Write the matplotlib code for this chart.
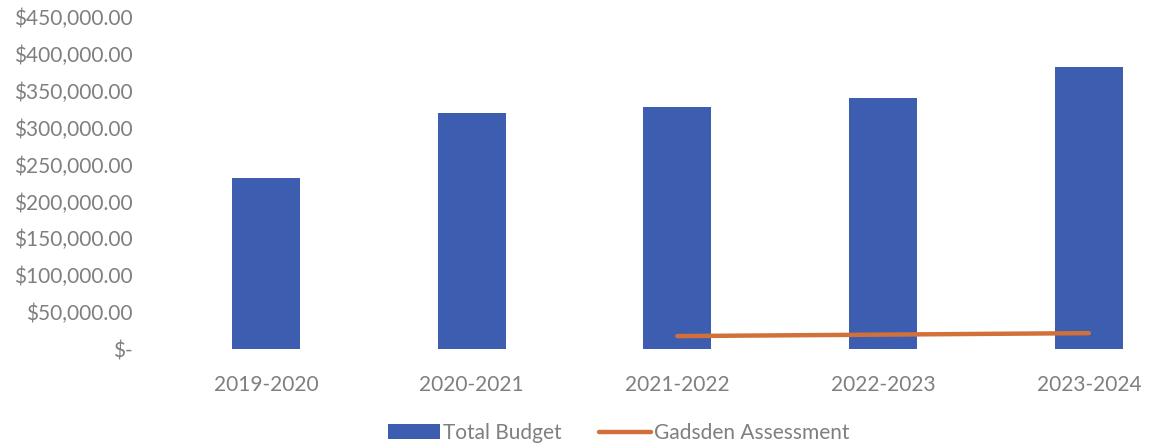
import matplotlib.pyplot as plt
from matplotlib.ticker import FuncFormatter

years = ["2019-2020", "2020-2021", "2021-2022", "2022-2023", "2023-2024"]
total_budget = [232000, 320000, 328000, 340000, 382500]
gadsden_years = ["2021-2022", "2022-2023", "2023-2024"]
gadsden_assessment = [17500, 19500, 21500]

BLUE = "#3C5DB0"
ORANGE = "#D2703A"
GREY = "#7F7F7F"

plt.rcParams["font.family"] = ["Lato", "DejaVu Sans"]

fig = plt.figure(figsize=(11.65, 4.44), dpi=100)
ax = fig.add_axes([163/1165, 1 - 349/444, 1 - 163/1165, 332/444])

x = list(range(len(years)))
bars = ax.bar(x, total_budget, width=0.33, color=BLUE, label="Total Budget", zorder=2)
gx = [years.index(y) for y in gadsden_years]
line, = ax.plot(gx, gadsden_assessment, color=ORANGE, linewidth=3.2,
                solid_capstyle="round", label="Gadsden Assessment", zorder=3)

ax.set_xlim(-0.5, 4.37)
ax.set_ylim(0, 450000)
ax.set_yticks(range(0, 450001, 50000))
ax.yaxis.set_major_formatter(FuncFormatter(
  lambda v, p: "$-" if v == 0 else "${:,.2f}".format(v)))
ax.set_xticks(x)
ax.set_xticklabels(years)

for s in ax.spines.values():
  s.set_visible(False)
ax.tick_params(length=0, labelsize=15, labelcolor=GREY)
ax.tick_params(axis="y", pad=22)
ax.tick_params(axis="x", pad=19)

fig.legend([bars, line], ["Total Budget", "Gadsden Assessment"],
           loc="center", bbox_to_anchor=(0.531, 0.025), ncol=2, frameon=False,
           fontsize=15, labelcolor=GREY, handlelength=2.5, handleheight=0.7,
           handletextpad=0.15, columnspacing=1.8)

fig.savefig("out.png", dpi=100)
